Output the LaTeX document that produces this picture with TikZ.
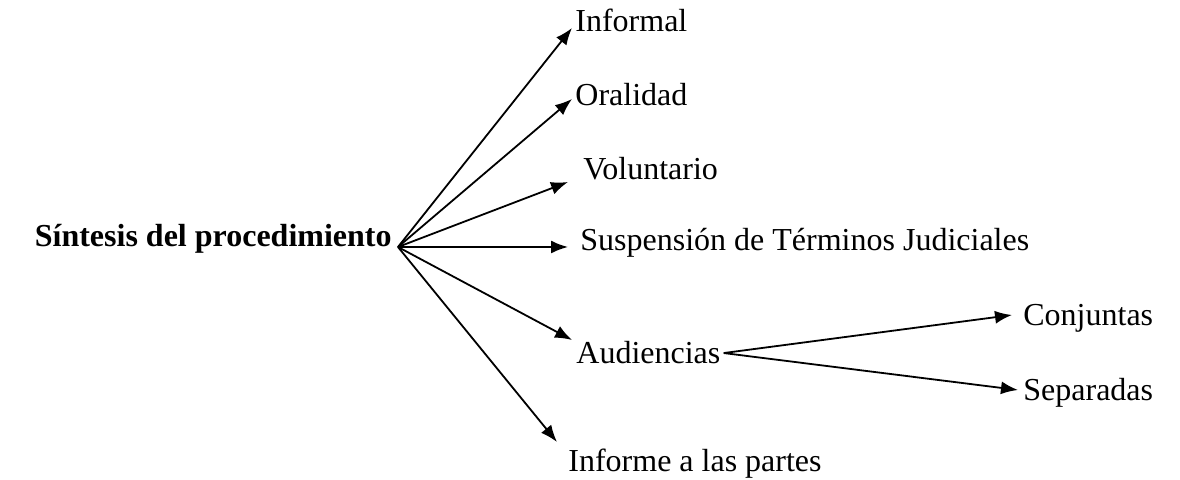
\documentclass[tikz,border=0pt]{standalone}
\usepackage{fontspec}
\setmainfont{Liberation Serif}
\usepackage{tikz}
\usetikzlibrary{arrows.meta,calc}
\tikzset{>={Latex[length=8.5pt,width=6.5pt]}}

\begin{document}
\begin{tikzpicture}[x=0.5pt, y=-0.5pt, font=\fontsize{16}{19}\selectfont,
		item/.style={inner sep=0pt, anchor=base west}]
		\useasboundingbox (0,0) rectangle (1180,480);
		\node[item, anchor=base east, inner xsep=3pt] (title) at (398,247) {\textbf{Síntesis del procedimiento}};
		\node[item] (inf) at (575,32) {Informal};
		\node[item] (ora) at (575,106) {Oralidad};
		\node[item] (vol) at (583,180) {Voluntario};
		\node[item] (sus) at (580,251) {Suspensión de Términos Judiciales};
		\node[item, inner xsep=1.5pt] (aud) at (573,364) {Audiencias};
		\node[item] (ipa) at (568,472) {Informe a las partes};
		\node[item] (con) at (1023,326) {Conjuntas};
		\node[item] (sep) at (1023,401) {Separadas};
		\path[->, line width=0.9pt]
			(title.base east) edge ($(inf.base west)+(-3,-4)$)
			(title.base east) edge ($(ora.base west)+(-3,-7)$)
			(title.base east) edge ($(vol.base west)+(-15,2)$)
			(title.base east) edge ($(sus.base west)+(-12,-4)$)
			(title.base east) edge ($(aud.base west)+(-1,-24)$)
			(title.base east) edge ($(ipa.base west)+(-11,-30)$)
			(aud.east) edge ($(con.base west)+(-11,-11)$)
			(aud.east) edge ($(sep.base west)+(-5,-11)$);
	\end{tikzpicture}
\end{document}
